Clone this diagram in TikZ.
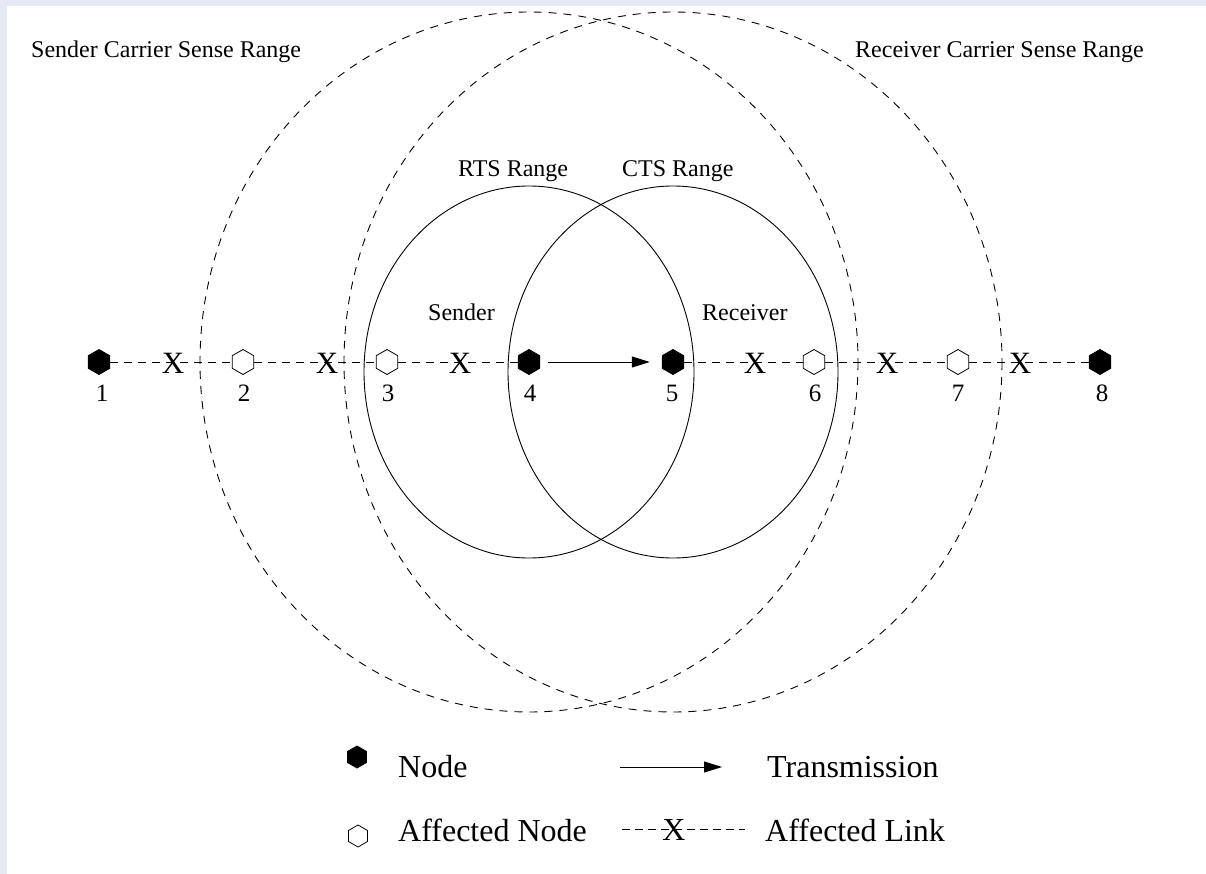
\documentclass[tikz,border=0pt]{standalone}
\usepackage{fontspec}
\setmainfont{Liberation Serif}
\usetikzlibrary{shapes.geometric,arrows.meta}
\definecolor{bluebg}{RGB}{228,233,244}
\begin{document}
\begin{tikzpicture}[x=1pt,y=-1pt,
  hexnode/.style={regular polygon, regular polygon sides=6, shape border rotate=90, inner sep=0pt, minimum size=25pt, draw=black, line width=0.8pt},
  full/.style={hexnode, fill=black},
  hollow/.style={hexnode, fill=white},
  numlab/.style={anchor=base, inner sep=0pt, font=\fontsize{25}{28}\selectfont},
  xmark/.style={inner sep=0pt, font=\fontsize{31}{34}\selectfont},
  lbl/.style={anchor=base west, inner sep=0pt, font=\fontsize{24}{28}\selectfont},
  leg/.style={anchor=west, inner sep=0pt, font=\fontsize{32}{36}\selectfont},
  link/.style={dash pattern=on 8pt off 6pt, line width=0.9pt},
  csrange/.style={dash pattern=on 8pt off 7pt, line width=0.9pt},
  rtsrange/.style={line width=0.9pt},
  tx/.style={line width=1pt, -{Triangle[length=18pt,width=11pt]}}
]
\fill[bluebg] (0,0) rectangle (1206,874);
\fill[white] (7,6) rectangle (1206,874);
\useasboundingbox (0,0) rectangle (1206,874);

% ranges
\draw[csrange] (529,362) ellipse [x radius=329, y radius=350];
\draw[csrange] (673,362) ellipse [x radius=329, y radius=350];
\draw[rtsrange] (529,372) ellipse [x radius=165, y radius=186];
\draw[rtsrange] (673,372) ellipse [x radius=165, y radius=186];

% nodes
\node[full]   (n1) at (99,362) {};
\node[hollow] (n2) at (243,362) {};
\node[hollow] (n3) at (387,362) {};
\node[full]   (n4) at (529,362) {};
\node[full]   (n5) at (673,362) {};
\node[hollow] (n6) at (814,362) {};
\node[hollow] (n7) at (958,362) {};
\node[full]   (n8) at (1100,362) {};

% links
\draw[link] (n1) -- (n2);
\draw[link] (n2) -- (n3);
\draw[link] (n3) -- (n4);
\draw[link] (n5) -- (n6);
\draw[link] (n6) -- (n7);
\draw[link] (n7) -- (n8);
\draw[tx, shorten <=8pt, shorten >=12pt] (n4) -- (n5);

% X marks
\node[xmark] (x1) at (173,363) {X};
\node[xmark] (x2) at (327,363) {X};
\node[xmark] (x3) at (460,363) {X};
\node[xmark] (x4) at (755,363) {X};
\node[xmark] (x5) at (887,363) {X};
\node[xmark] (x6) at (1020,363) {X};

% numbers
\node[numlab] (l1) at (102,401) {1};
\node[numlab] (l2) at (244,401) {2};
\node[numlab] (l3) at (388,401) {3};
\node[numlab] (l4) at (530,401) {4};
\node[numlab] (l5) at (672,401) {5};
\node[numlab] (l6) at (815,401) {6};
\node[numlab] (l7) at (958,401) {7};
\node[numlab] (l8) at (1102,401) {8};

% labels
\node[lbl] (scs) at (31,58) {Sender Carrier Sense Range};
\node[lbl] (rcs) at (855,58) {Receiver Carrier Sense Range};
\node[lbl] (rts) at (458,177) {RTS Range};
\node[lbl] (cts) at (622,177) {CTS Range};
\node[lbl] (snd) at (428,320) {Sender};
\node[lbl] (rcv) at (702,320) {Receiver};

% legend
\node[full, minimum size=22pt] (lg1) at (357,757) {};
\node[leg] (lgt1) at (398,767) {Node};
\coordinate (ta) at (620,767);
\coordinate (tb) at (722,767);
\draw[tx] (ta) -- (tb);
\node[leg] (lgt2) at (767,767) {Transmission};
\node[hollow, minimum size=22pt] (lg2) at (358,836) {};
\node[leg] (lgt3) at (398,830) {Affected Node};
\coordinate (la) at (622,829);
\coordinate (lb) at (745,829);
\draw[dash pattern=on 8pt off 5pt, line width=0.9pt] (la) -- (lb);
\node[xmark, font=\fontsize{32}{36}\selectfont] (lx) at (674,830) {X};
\node[leg] (lgt4) at (765,830) {Affected Link};
\end{tikzpicture}
\end{document}
